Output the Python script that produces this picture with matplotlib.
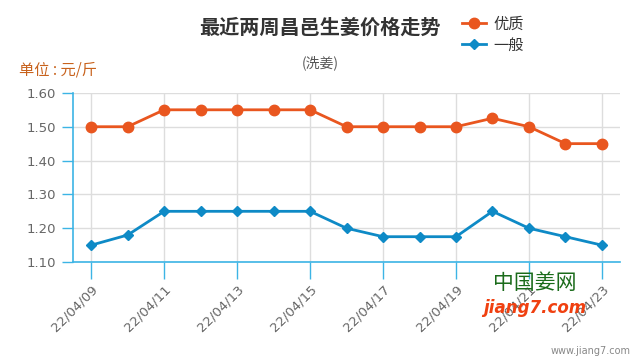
import numpy as np
import matplotlib.pyplot as plt

plt.rcParams['font.family'] = ['Noto Sans CJK SC', 'DejaVu Sans']

# Data
dates = ["22/04/09", "22/04/10", "22/04/11", "22/04/12", "22/04/13", "22/04/14", "22/04/15",
         "22/04/16", "22/04/17", "22/04/18", "22/04/19", "22/04/20", "22/04/21", "22/04/22", "22/04/23"]
premium = [1.50, 1.50, 1.55, 1.55, 1.55, 1.55, 1.55, 1.50, 1.50, 1.50, 1.50, 1.525, 1.50, 1.45, 1.45]
normal = [1.15, 1.18, 1.25, 1.25, 1.25, 1.25, 1.25, 1.20, 1.175, 1.175, 1.175, 1.25, 1.20, 1.175, 1.15]
series_names = ["优质", "一般"]


def main():
	orange = '#e9561f'
	blue = '#0e8ac6'
	axis_blue = '#3cb4e5'
	txt = '#666666'

	fig = plt.figure(figsize=(6.4, 3.6), dpi=100)
	ax = fig.add_axes([0.114, 0.272, 0.855, 0.47])

	x = np.arange(len(dates))
	ax.plot(x, premium, color=orange, lw=2, marker='o', ms=7.5, label=series_names[0], zorder=3)
	ax.plot(x, normal, color=blue, lw=2, marker='D', ms=5.5, label=series_names[1], zorder=3)

	# Axes format
	ax.set_xlim(-0.5, 14.5)
	ax.set_ylim(1.10, 1.60)
	ax.set_yticks(np.arange(1.10, 1.61, 0.10))
	ax.set_yticklabels([f"{v:.2f}" for v in np.arange(1.10, 1.61, 0.10)], family='DejaVu Sans')
	ax.set_xticks(x[::2])
	ax.set_xticklabels(dates[::2], rotation=45, ha='right', rotation_mode='anchor', family='DejaVu Sans')
	ax.tick_params(axis='both', colors=axis_blue, labelcolor=txt, labelsize=9.5)
	ax.tick_params(axis='x', length=12, width=1, pad=3)
	ax.tick_params(axis='y', length=8, width=1, pad=4)
	ax.grid(color='#dddddd', lw=1)
	ax.set_axisbelow(True)
	for s in ['top', 'right']:
		ax.spines[s].set_visible(False)
	for s in ['left', 'bottom']:
		ax.spines[s].set_color(axis_blue)
		ax.spines[s].set_linewidth(1.2)

	# Texts
	fig.text(0.5, 0.925, "最近两周昌邑生姜价格走势", ha='center', va='center', fontsize=14.5,
		fontweight='bold', color='#333333')
	fig.text(0.5, 0.826, "(洗姜)", ha='center', va='center', fontsize=10, color='#555555')
	fig.text(0.03, 0.806, "单位 : 元/斤", ha='left', va='center', fontsize=11, color='#c8621c')
	fig.text(0.985, 0.025, "www.jiang7.com", ha='right', va='center', fontsize=7, color='#888888',
		family='DejaVu Sans')
	fig.text(0.77, 0.215, "中国姜网", ha='left', va='center', fontsize=15, color='#1a6b1a')
	fig.text(0.755, 0.145, "jiang7.com", ha='left', va='center', fontsize=12, color='#f04010',
		fontweight='bold', style='italic', family='DejaVu Sans')

	fig.legend(loc='upper left', bbox_to_anchor=(0.7, 0.995), frameon=False, fontsize=11,
		handlelength=1.6, handletextpad=0.5, labelspacing=0.25, labelcolor='#333333')

	fig.savefig('out.png', dpi=100)


if __name__ == '__main__':
	main()
